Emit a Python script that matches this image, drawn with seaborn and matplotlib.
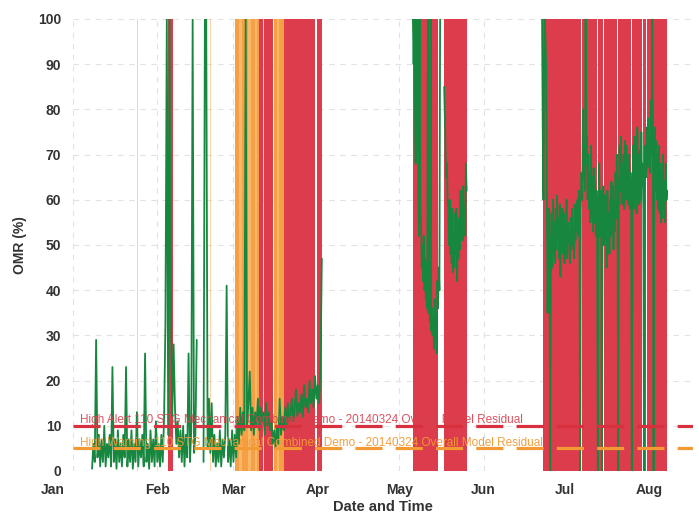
import numpy as np
import pandas as pd
import matplotlib
matplotlib.use("Agg")
import matplotlib.pyplot as plt
import matplotlib.dates as mdates
import matplotlib.transforms as mtransforms
import seaborn as sns

nan = np.nan

# ---- data ----
# Jan - Apr block, 12-hour samples
seg1_start = "2014-01-08 00:00"
seg1_freq = "12h"
seg1_vals = [
    0.5, 6, 2, 29, 3, 8, 1, 7, 2, 10, 1, 6, 3, 8, 1, 23, 2, 7, 0.5, 9,
    2, 6, 1, 8, 3, 23, 1, 7, 2, 9, 0.5, 6, 2, 13, 1, 7, 3, 8, 1, 26,
    2, 6, 0.5, 9, 2, 7, 1, 11, 2, 6, 1, 8, 2, 12,
    33, 100, 8, 100, 35, 12, 28, 14, 6, 11, 3, 9, 2, 10, 1, 8, 3, 26, 2, 9,
    100, 4, 8, 29, nan, nan, nan, nan, 2, 100, 100, 5, 16, 4, 15, 2, 8, 1, 6, 2,
    9, 1, 7, 3, 8, 41, 2, 7, 1, 9, 2, 8,
    3, 12, 6, 14, 8, 13, 9, 100, 10, 15, 22, 9, 14, 8, 13, 10, 16, 9, 14, 11,
    13, 8, 15, 10, 13, 9, 11, 6, 9, 5, 10, 6, 16, 8, 12, 9, 14, 10, 15, 11,
    13, 16, 11, 14, 18, 12, 15, 13, 17, 12, 19, 14, 16, 13, 20, 15, 18, 14, 21, 16,
    19, 15, 22, 47,
]
# May block, 6-hour samples
seg2_start = "2014-05-06 00:00"
seg2_freq = "6h"
seg2_vals = [
    100, 90, 100, 80, 68, 100, 72, 100, 60, 52, 100, 58, 55, 45, 50, 42,
    52, 40, 47, 38, 46, 36, 100, 35, 40, 33, 100, 31, 36, 30, 34, 27,
    38, 29, 35, 26, 42, 36, 45, 40, 100, nan, nan, nan, nan, nan, 85, 78,
    71, 65, 68, 60, 58, 50, 60, 48, 56, 46, 58, 44, 53, 45, 57, 48,
    58, 42, 55, 47, 56, 49, 62, 52, 60, 51, 63, 55, 58, 52, 68, 62,
]
# Jun - Aug block, 6-hour samples
seg3_start = "2014-06-22 12:00"
seg3_freq = "6h"
seg3_vals = [
    100, 75, 60, 90, 100, 95, 89, 62, 35, 48, 58, 44, 0, 50, 57, 45,
    60, 48, 55, 46, 58, 49, 61, 52, 56, 47, 59, 43, 55, 50, 58, 48,
    57, 46, 54, 50, 60, 47, 55, 51, 53, 46, 56, 49, 58, 50, 54, 47,
    59, 51, 57, 53, 60, 52, 62, 55, 0, 58, 66, 60, 80, 65, 72, 62,
    100, 68, 74, 60, 70, 58, 66, 55, 72, 56, 65, 53, 67, 55, 64, 52,
    62, 54, 0, 58, 68, 52, 62, 55, 0, 57, 63, 50, 61, 51, 58, 45,
    62, 50, 57, 48, 60, 52, 64, 54, 63, 49, 60, 53, 66, 56, 70, 58,
    0, 60, 72, 62, 74, 59, 68, 61, 70, 58, 73, 60, 72, 62, 67, 59,
    70, 58, 66, 60, 0, 62, 72, 58, 74, 60, 69, 57, 76, 62, 70, 59,
    71, 60, 75, 63, 68, 58, 0, 66, 72, 65, 76, 67, 78, 68, 74, 66,
    82, 70, 100, 72, 0, 68, 76, 62, 73, 60, 70, 58, 72, 57, 68, 55,
    66, 56, 70, 58, 64, 55, 68, 60, 62,
]

alert_start = ["2014-02-04 21:00", "2014-03-10 07:00", "2014-03-12 05:00", "2014-03-19 17:00",
               "2014-03-31 19:00", "2014-05-06 00:00", "2014-05-09 08:00", "2014-05-12 10:00",
               "2014-05-17 10:00", "2014-06-22 17:00", "2014-06-25 12:00", "2014-07-07 06:00",
               "2014-07-13 03:00", "2014-07-15 08:00", "2014-07-20 08:00", "2014-07-25 13:00",
               "2014-07-29 15:00", "2014-07-31 02:00"]
alert_end = ["2014-02-06 19:00", "2014-03-11 17:00", "2014-03-15 14:00", "2014-03-30 23:00",
             "2014-04-02 17:00", "2014-05-09 04:00", "2014-05-12 04:00", "2014-05-15 07:00",
             "2014-05-25 17:00", "2014-06-25 06:00", "2014-07-06 23:00", "2014-07-12 21:00",
             "2014-07-15 02:00", "2014-07-20 02:00", "2014-07-25 07:00", "2014-07-29 10:00",
             "2014-07-30 20:00", "2014-08-07 08:00"]
warn_start = ["2014-01-24 10:00", "2014-02-20 06:00", "2014-03-01 17:00", "2014-03-11 17:00",
              "2014-03-15 22:00"]
warn_end = ["2014-01-24 22:00", "2014-02-20 18:00", "2014-03-10 07:00", "2014-03-12 05:00",
            "2014-03-19 17:00"]
light_start = ["2014-03-03 00:00", "2014-03-06 12:00", "2014-03-09 00:00", "2014-03-17 00:00"]
light_end = ["2014-03-04 00:00", "2014-03-07 12:00", "2014-03-09 14:00", "2014-03-17 20:00"]

alert_text = "High Alert 110 STG Mechanical Combined Demo - 20140324 Overall Model Residual"
warn_text = "High Warning 110 STG Mechanical Combined Demo - 20140324 Overall Model Residual"
alert_level = 10
warn_level = 5

# ---- table ----
frames = []
blocks = [(seg1_start, seg1_freq, seg1_vals), (seg2_start, seg2_freq, seg2_vals),
          (seg3_start, seg3_freq, seg3_vals)]
for k, (start, freq, vals) in enumerate(blocks):
    f = pd.DataFrame({"time": pd.date_range(start, periods=len(vals), freq=freq),
                      "omr": vals})
    f["seg"] = k * 1000 + f["omr"].isna().cumsum()
    frames.append(f.dropna())
df = pd.concat(frames, ignore_index=True)

RED = "#dc3c4b"
ORANGE = "#f5a044"
LIGHT_OR = "#f9b76a"
GREEN = "#17863f"

sns.set_style("white")
plt.rcParams["font.family"] = ["Liberation Sans", "DejaVu Sans"]
plt.rcParams["lines.scale_dashes"] = False

fig = plt.figure(figsize=(6.99, 5.15), dpi=100)
ax = fig.add_axes([73 / 699, 1 - 471 / 515, 620 / 699, 452 / 515])

for s, e in zip(warn_start, warn_end):
    w = pd.Timestamp(e) - pd.Timestamp(s)
    ax.axvspan(pd.Timestamp(s), pd.Timestamp(e), color=ORANGE,
               alpha=0.45 if w < pd.Timedelta("1D") else 1, lw=0, zorder=1)
for s, e in zip(light_start, light_end):
    ax.axvspan(pd.Timestamp(s), pd.Timestamp(e), color=LIGHT_OR, lw=0, zorder=1.1)
for s, e in zip(alert_start, alert_end):
    ax.axvspan(pd.Timestamp(s), pd.Timestamp(e), color=RED, lw=0, zorder=1)

sns.lineplot(data=df, x="time", y="omr", units="seg", estimator=None, sort=False,
             color=GREEN, lw=1.3, ax=ax, legend=False, zorder=2)

ax.axhline(alert_level, color="#d8303f", lw=2.3, dashes=(19.5, 9.5), zorder=3)
ax.axhline(warn_level, color="#f39a35", lw=2.3, dashes=(19.5, 9.5), zorder=3)
tr = mtransforms.blended_transform_factory(ax.transAxes, ax.transData)
ax.text(0.011, alert_level + 0.6, alert_text, transform=tr, color="#d8404e", alpha=0.9,
        fontsize=8.5, zorder=4)
ax.text(0.011, warn_level + 0.6, warn_text, transform=tr, color="#f39a35", alpha=0.95,
        fontsize=8.5, zorder=4)

ax.set_ylim(0, 100)
ax.set_xlim(pd.Timestamp("2014-01-01"), pd.Timestamp("2014-08-17"))
ax.set_yticks(np.arange(0, 101, 10))
ax.set_yticks(np.arange(0, 101, 2), minor=True)
ax.xaxis.set_major_locator(mdates.MonthLocator())
ax.xaxis.set_major_formatter(mdates.DateFormatter("%b"))
ax.xaxis.set_minor_locator(mdates.WeekdayLocator(byweekday=mdates.TU))

ax.set_axisbelow(True)
ax.grid(True, which="major", color="#e2e2e2", lw=0.8, ls=(0, (4, 4)))
for sp in ax.spines.values():
    sp.set_visible(False)

ax.tick_params(axis="y", which="major", direction="out", length=5.5, width=1,
               color="#c8c8c8", pad=3, labelsize=10, labelcolor="#333333")
ax.tick_params(axis="y", which="minor", direction="in", length=5, width=1.1,
               color="#666666")
ax.tick_params(axis="x", which="major", direction="inout", length=11, width=1,
               color="#c8c8c8", pad=3, labelsize=10, labelcolor="#333333")
ax.tick_params(axis="x", which="minor", direction="in", length=4, width=1,
               color="#c8c8c8")
for lab in ax.get_xticklabels() + ax.get_yticklabels():
    lab.set_fontweight("bold")
jan = ax.get_xticklabels()[0]
jan.set_horizontalalignment("right")
jan.set_transform(jan.get_transform() + mtransforms.ScaledTranslation(-0.08, 0, fig.dpi_scale_trans))

ax.set_ylabel("OMR (%)", fontsize=10, fontweight="bold", color="#333333", labelpad=8)
ax.set_xlabel("Date and Time", fontsize=10.5, fontweight="bold", color="#333333", labelpad=2)

fig.savefig("out.png", dpi=100)
